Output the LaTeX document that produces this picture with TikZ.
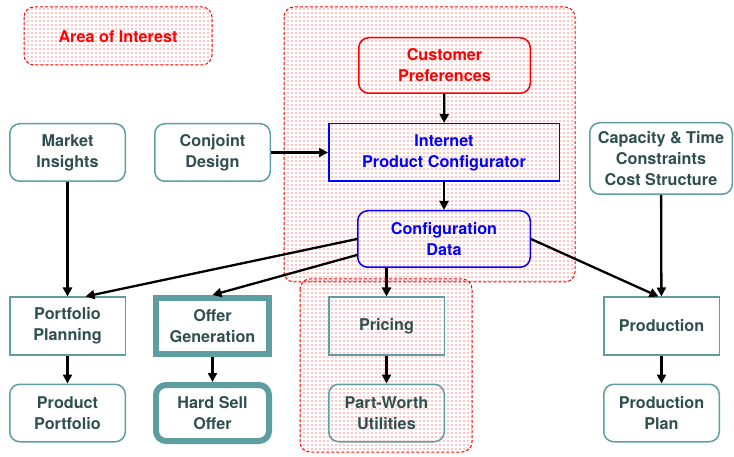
\documentclass[tikz,border=0pt]{standalone}
\usepackage{fontspec}
\setmainfont{TeX Gyre Heros}
\usetikzlibrary{patterns,arrows.meta}
\pgfdeclarepatternformonly{sparsedots}{\pgfqpoint{-1pt}{-1pt}}{\pgfqpoint{1pt}{1pt}}{\pgfqpoint{4pt}{4pt}}{%
  \pgfpathcircle{\pgfqpoint{0pt}{0pt}}{0.6pt}\pgfusepath{fill}}
\definecolor{tealb}{HTML}{5F9EA0}
\definecolor{tealt}{HTML}{2F4F4F}
\definecolor{cfgblue}{HTML}{0000FF}
\begin{document}
\begin{tikzpicture}[x=1pt,y=-1pt,
  every node/.style={font=\fontsize{16.2}{21}\selectfont\bfseries, align=center, inner sep=0pt},
  region/.style={draw=red, line width=1pt, dash pattern=on 3pt off 2pt, rounded corners=10pt,
     pattern=sparsedots, pattern color=red},
  tbox/.style={draw=tealb, line width=1.5pt, text=tealt, minimum width=115.5pt, minimum height=57.5pt},
  rbox/.style={tbox, rounded corners=10pt},
  thickbox/.style={draw=tealb, line width=6pt, text=tealt, minimum width=113pt, minimum height=56pt},
  arr/.style={draw=black, line width=2.3pt, -{Triangle[length=9pt,width=9pt]}}
]
\useasboundingbox (0,0) rectangle (734,457);
% regions
\path[region] (24,7) rectangle (212,65);
\path[region] (300,279) rectangle (472,452);
\path[region] (284,7) rectangle (575,282);
\node[text=red] (aoi) at (118,37) {Area of Interest};
% nodes
\node[draw=red, line width=1.5pt, rounded corners=10pt, text=red, minimum width=171.5pt, minimum height=55.5pt] (cp) at (444.5,65.5) {Customer\\Preferences};
\node[draw=cfgblue, line width=1.5pt, text=cfgblue, minimum width=230.5pt, minimum height=57.5pt] (ipc) at (444,152.5) {Internet\\Product Configurator};
\node[draw=cfgblue, line width=1.5pt, rounded corners=10pt, text=cfgblue, minimum width=172.5pt, minimum height=56.5pt] (cd) at (444,239) {Configuration\\Data};
\node[rbox] (mi) at (67.5,152.5) {Market\\Insights};
\node[rbox] (cj) at (212.5,152.5) {Conjoint\\Design};
\node[rbox, minimum width=142.5pt, minimum height=71.5pt] (cap) at (661,158.5) {Capacity \& Time\\Constraints\\Cost Structure};
\node[tbox] (pp) at (67.5,326) {Portfolio\\Planning};
\node[thickbox] (og) at (212.5,326) {Offer\\Generation};
\node[rbox] (ppf) at (67.5,413) {Product\\Portfolio};
\node[thickbox, rounded corners=10pt] (hs) at (212.5,413) {Hard Sell\\Offer};
\node[tbox] (pr) at (386.5,326) {Pricing};
\node[rbox] (pw) at (386.5,413) {Part-Worth\\Utilities};
\node[tbox] (prod) at (661.5,326) {Production};
\node[rbox] (pplan) at (661.5,413) {Production\\Plan};
% connectors
\draw[arr] (cp) -- (ipc);
\draw[arr] (ipc) -- (cd);
\draw[arr] (cj) -- (ipc);
\draw[arr] (mi) -- (pp);
\draw[arr] (cd.west) -- ([xshift=18pt]pp.north);
\draw[arr] ([yshift=-16pt]cd.west) -- (og.north);
\draw[arr] (cd.south -| pr.north) -- (pr.north);
\draw[arr] (cd.east) -- ([xshift=-3pt]prod.north);
\draw[arr] (cap) -- (prod);
\draw[arr] (pp) -- (ppf);
\draw[arr] (og) -- (hs);
\draw[arr] (pr) -- (pw);
\draw[arr] (prod) -- (pplan);
\end{tikzpicture}
\end{document}
